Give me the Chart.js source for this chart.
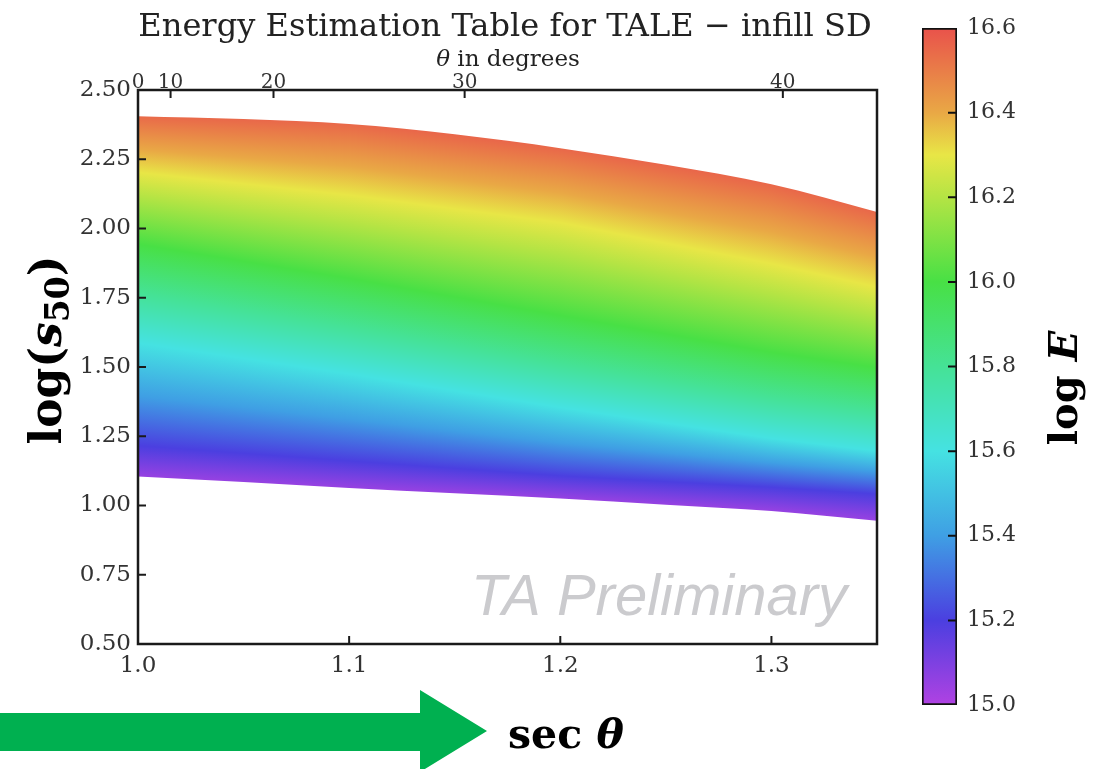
<!DOCTYPE html>
<html>
<head>
<meta charset="utf-8">
<script src="https://cdn.jsdelivr.net/npm/chart.js@4.4.1/dist/chart.umd.min.js"></script>
<style>
html,body{margin:0;padding:0;background:#fff;}
#wrap{position:relative;width:1102px;height:769px;overflow:hidden;}
#main_chart{position:absolute;left:0;top:0;}
#cbar_chart{position:absolute;left:880px;top:0;}
</style>
</head>
<body>
<div id="wrap">
<canvas id="main_chart" width="1102" height="769"></canvas>
<canvas id="cbar_chart" width="222" height="769"></canvas>
</div>
<script>
// edges of the table : log(s50) against sec(theta)
const secTheta  = [1.00, 1.05, 1.10, 1.15, 1.20, 1.25, 1.30, 1.35];
const upperLogS = [2.405, 2.395, 2.377, 2.340, 2.290, 2.230, 2.160, 2.060];
const lowerLogS = [1.105, 1.085, 1.063, 1.044, 1.025, 1.003, 0.980, 0.945];

// log(s50) where log E reaches a level, read on a few columns
const isoSec = [1.00, 1.10, 1.20, 1.30, 1.35];
const isoE   = [15.05, 15.26, 15.57, 15.95, 16.28, 16.55];
const isoLogS1505 = [1.105, 1.063, 1.025, 0.980, 0.945];
const isoLogS1526 = [1.26, 1.20, 1.14, 1.10, 1.08];
const isoLogS1557 = [1.56, 1.45, 1.33, 1.22, 1.175];
const isoLogS1595 = [1.90, 1.77, 1.63, 1.50, 1.45];
const isoLogS1628 = [2.186, 2.10, 2.00, 1.85, 1.767];
const isoLogS1655 = [2.41, 2.38, 2.29, 2.16, 2.06];

// colour scale
const cbarE      = [15.0, 15.2, 15.4, 15.6, 15.8, 16.0, 16.2, 16.3, 16.4, 16.6];
const cbarColors = ['#b042e2','#4b3fe0','#3f9fe4','#45e2e2','#45e296','#48e045','#b4e444','#e8e646','#e9a845','#e9524b'];
const cbarTicks  = [15.0, 15.2, 15.4, 15.6, 15.8, 16.0, 16.2, 16.4, 16.6];

// axes
const xTicks = [1.0, 1.1, 1.2, 1.3];
const yTicks = [0.50, 0.75, 1.00, 1.25, 1.50, 1.75, 2.00, 2.25, 2.50];
const thetaTicks = [0, 10, 20, 30, 40];

const SERIF = '"DejaVu Serif", serif';

const clamp01 = v => Math.min(1, Math.max(0, v));

const lerp = (xs, ys, x) => {
  const n = xs.length;
  if (x <= xs[0]) return ys[0] + (x - xs[0]) * (ys[1] - ys[0]) / (xs[1] - xs[0]);
  for (let i = 1; i < n; i++) {
    if (x <= xs[i]) {
      const t = (x - xs[i-1]) / (xs[i] - xs[i-1]);
      return ys[i-1] + t * (ys[i] - ys[i-1]);
    }
  }
  return ys[n-1] + (x - xs[n-1]) * (ys[n-1] - ys[n-2]) / (xs[n-1] - xs[n-2]);
};

let gFillPattern = null;
const buildFill = (chart) => {
  const {chartArea: a, scales} = chart;
  const off = document.createElement('canvas');
  off.width = chart.width;
  off.height = chart.height;
  const c = off.getContext('2d');
  const rows = [isoLogS1505, isoLogS1526, isoLogS1557, isoLogS1595, isoLogS1628, isoLogS1655];
  const h = a.bottom - a.top;
  for (let px = Math.floor(a.left); px < Math.ceil(a.right); px++) {
    const sec = scales.x.getValueForPixel(px + 0.5);
    const col = rows.map(r => lerp(isoSec, r, sec));
    const g = c.createLinearGradient(0, a.bottom, 0, a.top);
    let last = 0;
    cbarE.forEach((e, i) => {
      const py = scales.y.getPixelForValue(lerp(isoE, col, e));
      let f = clamp01((a.bottom - py) / h);
      if (f < last) f = last;
      last = f;
      g.addColorStop(f, cbarColors[i]);
    });
    c.fillStyle = g;
    c.fillRect(px, a.top, 1, h);
  }
  return off;
};

const fillColor = (context) => {
  const chart = context.chart;
  if (!chart.chartArea) return 'rgba(0,0,0,0)';
  if (!gFillPattern) gFillPattern = chart.ctx.createPattern(buildFill(chart), 'no-repeat');
  return gFillPattern;
};

// text made of pieces with their own fonts, turned to read upwards
const drawUpText = (ctx, parts, cx, cy) => {
  ctx.save();
  ctx.translate(cx, cy);
  ctx.rotate(-Math.PI / 2);
  let total = 0;
  parts.forEach(p => { ctx.font = p.font; p.w = ctx.measureText(p.text).width; total += p.w; });
  let x = -total / 2;
  ctx.textAlign = 'left';
  ctx.textBaseline = 'alphabetic';
  ctx.fillStyle = '#000';
  parts.forEach(p => { ctx.font = p.font; ctx.fillText(p.text, x, p.dy || 0); x += p.w; });
  ctx.restore();
};

const mainDecor = {
  id: 'mainDecor',
  afterDatasetsDraw(chart) {
    const {ctx, chartArea: a, scales} = chart;
    ctx.save();
    // watermark
    ctx.font = 'italic 58px "Liberation Sans", sans-serif';
    ctx.fillStyle = '#cbcbce';
    ctx.textBaseline = 'alphabetic';
    ctx.fillText('TA Preliminary', 471, 615);
    // frame
    ctx.strokeStyle = '#1a1a1a';
    ctx.lineWidth = 2.5;
    ctx.strokeRect(a.left, a.top, a.right - a.left, a.bottom - a.top);
    // inward ticks
    ctx.lineWidth = 2;
    ctx.beginPath();
    scales.y.ticks.forEach(t => {
      const y = scales.y.getPixelForValue(t.value);
      if (y > a.top + 2 && y < a.bottom - 2) { ctx.moveTo(a.left, y); ctx.lineTo(a.left + 8, y); }
    });
    scales.x.ticks.forEach(t => {
      const x = scales.x.getPixelForValue(t.value);
      if (x > a.left + 2) { ctx.moveTo(x, a.bottom); ctx.lineTo(x, a.bottom - 8); }
    });
    scales.x2.ticks.forEach(t => {
      const x = scales.x2.getPixelForValue(t.value);
      if (x > a.left + 2) { ctx.moveTo(x, a.top); ctx.lineTo(x, a.top + 8); }
    });
    ctx.stroke();
    ctx.restore();
  },
  afterDraw(chart) {
    const {ctx} = chart;
    ctx.save();
    // title, stretched to the width of the frame
    const title = 'Energy Estimation Table for TALE \u2212 infill SD';
    ctx.font = '26px ' + SERIF;
    const size = 26 * 735 / ctx.measureText(title).width;
    ctx.font = size.toFixed(1) + 'px ' + SERIF;
    ctx.fillStyle = '#222';
    ctx.textAlign = 'center';
    ctx.textBaseline = 'alphabetic';
    ctx.fillText(title, 505, 36);
    // top axis title
    ctx.textAlign = 'left';
    ctx.font = 'italic 23px ' + SERIF;
    const wTh = ctx.measureText('\u03b8').width;
    ctx.font = '23px ' + SERIF;
    const wRest = ctx.measureText(' in degrees').width;
    const x0 = 508 - (wTh + wRest) / 2;
    ctx.font = 'italic 23px ' + SERIF;
    ctx.fillText('\u03b8', x0, 66);
    ctx.font = '23px ' + SERIF;
    ctx.fillText(' in degrees', x0 + wTh, 66);
    // y title
    drawUpText(ctx, [
      {text: 'log(', font: 'bold 44px ' + SERIF},
      {text: 's', font: 'bold italic 44px ' + SERIF},
      {text: '50', font: 'bold 33px ' + SERIF, dy: 8},
      {text: ')', font: 'bold 44px ' + SERIF}
    ], 61, 350);
    // green arrow
    ctx.fillStyle = '#00b050';
    ctx.beginPath();
    ctx.moveTo(0, 713); ctx.lineTo(420, 713); ctx.lineTo(420, 690);
    ctx.lineTo(487, 731); ctx.lineTo(420, 772); ctx.lineTo(420, 751);
    ctx.lineTo(0, 751); ctx.closePath(); ctx.fill();
    // x title
    ctx.fillStyle = '#000';
    ctx.font = 'bold 41px ' + SERIF;
    ctx.fillText('sec', 508, 748);
    const wSec = ctx.measureText('sec ').width;
    ctx.font = 'bold italic 41px ' + SERIF;
    ctx.fillText('\u03b8', 508 + wSec, 748);
    ctx.restore();
  }
};

const createMainChart = () => {
  const ctx = document.getElementById('main_chart').getContext('2d');
  return new Chart(ctx, {
    type: 'line',
    data: {
      datasets: [
        {
          label: 'upper',
          data: secTheta.map((s, i) => ({x: s, y: upperLogS[i]})),
          borderWidth: 0,
          borderColor: 'rgba(0,0,0,0)',
          pointRadius: 0,
          cubicInterpolationMode: 'monotone',
          fill: '+1',
          backgroundColor: fillColor
        },
        {
          label: 'lower',
          data: secTheta.map((s, i) => ({x: s, y: lowerLogS[i]})),
          borderWidth: 0,
          borderColor: 'rgba(0,0,0,0)',
          pointRadius: 0,
          cubicInterpolationMode: 'monotone',
          fill: false
        }
      ]
    },
    options: {
      responsive: false,
      animation: false,
      devicePixelRatio: 1,
      layout: {padding: {left: 0, right: 225, top: 0, bottom: 0}},
      plugins: {legend: {display: false}, tooltip: {enabled: false}, title: {display: false}},
      scales: {
        x: {
          type: 'linear', position: 'bottom', min: 1.0, max: 1.35,
          afterBuildTicks: s => { s.ticks = xTicks.map(v => ({value: v})); },
          ticks: {callback: v => v.toFixed(1), font: {family: SERIF, size: 23}, color: '#333', padding: 8, autoSkip: false, maxRotation: 0},
          grid: {display: false, drawTicks: false},
          border: {display: false},
          afterFit: s => { s.height = 125; }
        },
        x2: {
          type: 'linear', position: 'top', min: 1.0, max: 1.35,
          afterBuildTicks: s => { s.ticks = thetaTicks.map(d => ({value: 1 / Math.cos(d * Math.PI / 180)})); },
          ticks: {callback: (v, i) => String(thetaTicks[i]), font: {family: SERIF, size: 20}, color: '#333', padding: -5, autoSkip: false, maxRotation: 0},
          grid: {display: false, drawTicks: false},
          border: {display: false},
          afterFit: s => { s.height = 90; }
        },
        y: {
          type: 'linear', position: 'left', min: 0.5, max: 2.5,
          afterBuildTicks: s => { s.ticks = yTicks.map(v => ({value: v})); },
          ticks: {callback: v => v.toFixed(2), font: {family: SERIF, size: 23}, color: '#333', padding: 7},
          grid: {display: false, drawTicks: false},
          border: {display: false},
          afterFit: s => { s.width = 138; }
        }
      }
    },
    plugins: [mainDecor]
  });
};

const cbarDecor = {
  id: 'cbarDecor',
  afterDraw(chart) {
    const {ctx, chartArea: a, scales} = chart;
    ctx.save();
    ctx.strokeStyle = '#111';
    ctx.lineWidth = 2;
    ctx.beginPath();
    scales.y.ticks.forEach(t => {
      const y = scales.y.getPixelForValue(t.value);
      if (y > a.top + 2 && y < a.bottom - 2) { ctx.moveTo(a.right, y); ctx.lineTo(a.right - 9, y); }
    });
    ctx.stroke();
    drawUpText(ctx, [
      {text: 'log ', font: 'bold 40px ' + SERIF},
      {text: 'E', font: 'bold italic 40px ' + SERIF}
    ], 197, 388);
    ctx.restore();
  }
};

const cbarFill = (context) => {
  const chart = context.chart;
  const a = chart.chartArea;
  if (!a) return 'rgba(0,0,0,0)';
  const y = chart.scales.y;
  const g = chart.ctx.createLinearGradient(0, y.getPixelForValue(15.0), 0, y.getPixelForValue(16.6));
  cbarE.forEach((e, i) => g.addColorStop(clamp01((e - 15.0) / 1.6), cbarColors[i]));
  return g;
};

const createCbarChart = () => {
  const ctx = document.getElementById('cbar_chart').getContext('2d');
  return new Chart(ctx, {
    type: 'bar',
    data: {
      labels: ['log E'],
      datasets: [{
        data: [[15.0, 16.6]],
        backgroundColor: cbarFill,
        borderColor: '#111',
        borderWidth: 2,
        borderSkipped: false,
        barPercentage: 1,
        categoryPercentage: 1
      }]
    },
    options: {
      responsive: false,
      animation: false,
      devicePixelRatio: 1,
      layout: {padding: {left: 42, right: 0, top: 28, bottom: 64}},
      plugins: {legend: {display: false}, tooltip: {enabled: false}},
      scales: {
        x: {display: false},
        y: {
          position: 'right', min: 15.0, max: 16.6,
          afterBuildTicks: s => { s.ticks = cbarTicks.map(v => ({value: v})); },
          ticks: {callback: v => v.toFixed(1), font: {family: SERIF, size: 22}, color: '#333', padding: 10},
          grid: {display: false, drawTicks: false},
          border: {display: false},
          afterFit: s => { s.width = 145; }
        }
      }
    },
    plugins: [cbarDecor]
  });
};

createMainChart();
createCbarChart();
</script>
</body>
</html>
